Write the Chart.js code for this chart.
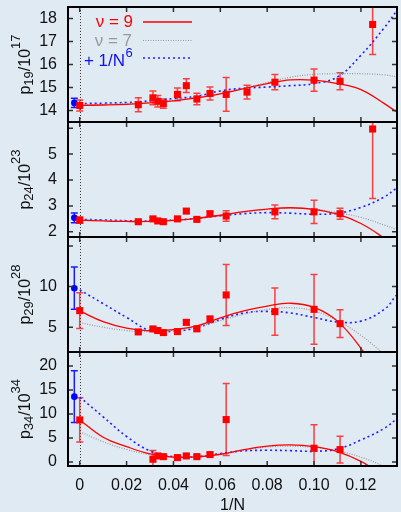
<!DOCTYPE html>
<html>
<head>
<meta charset="utf-8">
<script src="https://cdn.jsdelivr.net/npm/chart.js@4.4.1/dist/chart.umd.min.js"></script>
<style>
  html, body { margin: 0; padding: 0; background: #e0eaf3; overflow: hidden; }
  body { width: 401px; height: 512px; position: relative; }
  .panel { position: absolute; left: 0; }
</style>
</head>
<body>
<canvas id="c1" class="panel" style="top:0" width="402" height="130"></canvas>
<canvas id="c2" class="panel" style="top:115px" width="402" height="130"></canvas>
<canvas id="c3" class="panel" style="top:230px" width="402" height="130"></canvas>
<canvas id="c4" class="panel" style="top:340px" width="402" height="172"></canvas>
<script>
// lattice points, x = 1/N
const xPts = [0, 0.025, 0.03125, 0.0333, 0.0357, 0.0417, 0.0455, 0.05, 0.0556, 0.0625, 0.0714, 0.0833, 0.1, 0.1111, 0.125];
const p19 = [14.22, 14.25, 14.55, 14.4, 14.3, 14.7, 15.08, 14.5, 14.74, 14.7, 14.8, 15.23, 15.32, 15.27, 17.74];
const p19Err = [0.24, 0.3, 0.3, 0.25, 0.2, 0.28, 0.3, 0.25, 0.28, 0.73, 0.3, 0.33, 0.48, 0.37, 1.3];
const p24 = [2.45, 2.39, 2.5, 2.42, 2.39, 2.5, 2.8, 2.48, 2.7, 2.61, null, 2.77, 2.77, 2.7, 5.97];
const p24Err = [0.12, 0.05, 0.06, 0.05, 0.05, 0.06, 0.06, 0.06, 0.08, 0.2, null, 0.27, 0.45, 0.21, 2.68];
const p29 = [7.04, 4.42, 4.79, 4.59, 4.34, 4.46, 5.6, 4.8, 5.98, 8.97, null, 6.92, 7.2, 5.44, null];
const p29Err = [2.2, 0.2, 0.2, 0.2, 0.2, 0.2, 0.3, 0.3, 0.4, 3.75, null, 2.9, 4.3, 1.7, null];
const p34 = [8.75, null, 0.56, 1.25, 1.1, 0.9, 1.25, 1.1, 1.53, 8.82, null, null, 2.85, 2.57, null];
const p34Err = [4.6, null, 1.8, 0.3, 0.3, 0.3, 0.3, 0.3, 0.4, 7.5, null, null, 4.9, 2.8, null];

// extrapolation with 1/N^6 term (blue, shifted left a bit)
const blueX = -0.0023;
const blueVals = [14.33, 2.54, 9.8, 13.6];
const blueErrs = [0.2, 0.19, 2.6, 5.4];

// fit curves
const curveX = [0, 0.01, 0.02, 0.03, 0.04, 0.05, 0.06, 0.07, 0.08, 0.09, 0.10, 0.11, 0.12, 0.13, 0.135];
const nu9_p19 = [14.22, 14.24, 14.27, 14.33, 14.42, 14.55, 14.72, 14.95, 15.17, 15.33, 15.32, 15.17, 14.91, 14.3, 13.95];
const nu7_p19 = [14.25, 14.27, 14.3, 14.36, 14.45, 14.58, 14.75, 14.97, 15.22, 15.45, 15.57, 15.6, 15.6, 15.55, 15.47];
const n6_p19 = [14.3, 14.32, 14.35, 14.42, 14.52, 14.62, 14.85, 14.97, 15.02, 15.08, 15.17, 15.46, 16.4, 17.6, 18.3];
const nu9_p24 = [2.45, 2.42, 2.4, 2.4, 2.44, 2.52, 2.64, 2.78, 2.88, 2.93, 2.87, 2.68, 2.32, 1.75, 1.4];
const nu7_p24 = [2.47, 2.44, 2.41, 2.41, 2.45, 2.52, 2.63, 2.76, 2.86, 2.91, 2.88, 2.74, 2.56, 2.26, 2.1];
const n6_p24 = [2.48, 2.46, 2.43, 2.42, 2.45, 2.52, 2.62, 2.7, 2.74, 2.72, 2.68, 2.72, 2.94, 3.35, 3.68];
const nu9_p29 = [7.0, 5.69, 4.88, 4.55, 4.7, 5.16, 6.15, 7.0, 7.6, 7.95, 7.45, 5.75, 2.4, -2, -5];
const nu7_p29 = [5.57, 5.0, 4.59, 4.45, 4.6, 5.05, 5.8, 6.6, 7.2, 7.4, 7.0, 5.8, 4.0, 1.6, 0];
const n6_p29 = [9.6, 7.9, 6.2, 4.6, 4.5, 4.95, 5.95, 6.75, 6.95, 6.75, 6.2, 5.65, 5.75, 7.2, 8.9];
const nu9_p34 = [8.75, 5.14, 3.2, 1.67, 1.0, 1.05, 1.6, 2.55, 3.3, 3.55, 3.2, 2.15, 0.1, -3, -5];
const nu7_p34 = [6.3, 4.2, 2.6, 1.5, 1.0, 1.05, 1.55, 2.4, 3.1, 3.3, 3.0, 2.3, 1.0, -1.0, -2.5];
const n6_p34 = [13.5, 9.4, 5.3, 2.3, 1.1, 1.1, 1.75, 2.3, 2.42, 2.35, 2.22, 2.7, 4.58, 7.0, 8.9];

// ticks
const xTicks = [0, 0.02, 0.04, 0.06, 0.08, 0.10, 0.12];
const xTickLabels = ['0', '0.02', '0.04', '0.06', '0.08', '0.10', '0.12'];
const yTicks19 = [14, 15, 16, 17, 18];
const yLabels19 = ['14', '15', '16', '17', '18'];
const yTicks24 = [2, 3, 4, 5, 6];
const yLabels24 = ['2', '3', '4', '5', ''];
const yTicks29 = [5, 10, 15];
const yLabels29 = ['5', '10', ''];
const yTicks34 = [0, 5, 10, 15, 20];
const yLabels34 = ['0', '5', '10', '15', '20'];

const FONT = '"Liberation Sans", Arial, sans-serif';
Chart.defaults.font.family = FONT;

// box round the plot with inward ticks on all four sides
const frame = {
    id: 'frame',
    afterDraw(chart) {
        const {ctx, chartArea: a, scales: {x, y}} = chart;
        ctx.save();
        ctx.strokeStyle = '#333';
        ctx.lineWidth = 1.5;
        ctx.beginPath();
        xTicks.forEach(v => {
            const px = x.getPixelForValue(v);
            ctx.moveTo(px, a.top); ctx.lineTo(px, a.top + 5);
            ctx.moveTo(px, a.bottom); ctx.lineTo(px, a.bottom - 5);
        });
        y.ticks.forEach(t => {
            const py = y.getPixelForValue(t.value);
            ctx.moveTo(a.left, py); ctx.lineTo(a.left + 5, py);
            ctx.moveTo(a.right, py); ctx.lineTo(a.right - 5, py);
        });
        ctx.stroke();
        ctx.strokeStyle = '#000';
        ctx.lineWidth = 2;
        ctx.strokeRect(a.left, a.top, a.right - a.left, a.bottom - a.top);
        ctx.restore();
    }
};

// dotted line at 1/N = 0 and the error bars
const errorBars = {
    id: 'errorBars',
    beforeDatasetsDraw(chart) {
        const {ctx, chartArea: a, scales: {x, y}} = chart;
        ctx.save();
        ctx.beginPath();
        ctx.rect(a.left, a.top, a.right - a.left, a.bottom - a.top);
        ctx.clip();

        const x0 = Math.round(x.getPixelForValue(0)) + 0.5;
        ctx.strokeStyle = '#333';
        ctx.lineWidth = 1;
        ctx.setLineDash([1, 2]);
        ctx.beginPath();
        ctx.moveTo(x0, a.top); ctx.lineTo(x0, a.bottom);
        ctx.stroke();
        ctx.setLineDash([]);

        chart.data.datasets.forEach(ds => {
            if (!ds.errors) return;
            ctx.strokeStyle = ds.errColor;
            ctx.lineWidth = 1.5;
            ds.data.forEach((pt, i) => {
                const e = ds.errors[i];
                const px = x.getPixelForValue(pt.x);
                const y1 = y.getPixelForValue(pt.y + e);
                const y2 = y.getPixelForValue(pt.y - e);
                ctx.beginPath();
                ctx.moveTo(px, y1); ctx.lineTo(px, y2);
                ctx.moveTo(px - 3.5, y1); ctx.lineTo(px + 3.5, y1);
                ctx.moveTo(px - 3.5, y2); ctx.lineTo(px + 3.5, y2);
                ctx.stroke();
            });
        });
        ctx.restore();
    }
};

// rotated y title like p_19/10^17
const yTitle = {
    id: 'yTitle',
    afterDraw(chart, args, opts) {
        const {ctx, chartArea: a} = chart;
        const parts = [
            {t: 'p', size: 16, dy: 0},
            {t: opts.sub, size: 13, dy: 3},
            {t: '/10', size: 16, dy: 0},
            {t: opts.sup, size: 13, dy: -10}
        ];
        ctx.save();
        ctx.translate(29.5, (a.top + a.bottom) / 2);
        ctx.rotate(-Math.PI / 2);
        ctx.fillStyle = '#111';
        ctx.textAlign = 'left';
        ctx.textBaseline = 'alphabetic';
        let w = 0;
        parts.forEach(p => {
            ctx.font = p.size + 'px ' + FONT;
            p.w = ctx.measureText(p.t).width;
            w += p.w;
        });
        let cx = -w / 2;
        parts.forEach(p => {
            ctx.font = p.size + 'px ' + FONT;
            ctx.fillText(p.t, cx, p.dy);
            cx += p.w;
        });
        ctx.restore();
    }
};

// gnuplot style key in the first panel
const keyBox = {
    id: 'keyBox',
    afterDraw(chart, args, opts) {
        if (!opts.show) return;
        const ctx = chart.ctx;
        ctx.save();
        ctx.textAlign = 'right';
        ctx.textBaseline = 'middle';
        ctx.font = '17px ' + FONT;

        ctx.fillStyle = '#ff0000';
        ctx.fillText('ν = 9', 133, 22);
        ctx.strokeStyle = '#ff0000';
        ctx.lineWidth = 1.3;
        ctx.beginPath(); ctx.moveTo(143, 22); ctx.lineTo(192, 22); ctx.stroke();

        ctx.fillStyle = '#999';
        ctx.fillText('ν = 7', 132, 41);
        ctx.strokeStyle = '#9a9a9a';
        ctx.lineWidth = 1.2;
        ctx.setLineDash([1, 1.5]);
        ctx.beginPath(); ctx.moveTo(143, 40.5); ctx.lineTo(192, 40.5); ctx.stroke();

        ctx.fillStyle = '#1010f0';
        ctx.fillText('+ 1/N', 125, 61);
        ctx.font = '13px ' + FONT;
        ctx.textAlign = 'left';
        ctx.fillText('6', 125.5, 53);
        ctx.strokeStyle = '#1f1fff';
        ctx.lineWidth = 1.6;
        ctx.setLineDash([2, 3]);
        ctx.beginPath(); ctx.moveTo(143, 58); ctx.lineTo(192, 58); ctx.stroke();
        ctx.restore();
    }
};

const panels = [
    {id: 'c1', k: 0, pts: p19, err: p19Err, nu9: nu9_p19, nu7: nu7_p19, n6: n6_p19, yMin: 13.5, yMax: 18.5, yTicks: yTicks19, yLabels: yLabels19, sub: '19', sup: '17', padTop: 7, padBottom: 8},
    {id: 'c2', k: 1, pts: p24, err: p24Err, nu9: nu9_p24, nu7: nu7_p24, n6: n6_p24, yMin: 1.8, yMax: 6.24, yTicks: yTicks24, yLabels: yLabels24, sub: '24', sup: '23', padTop: 7, padBottom: 8},
    {id: 'c3', k: 2, pts: p29, err: p29Err, nu9: nu9_p29, nu7: nu7_p29, n6: n6_p29, yMin: 1.95, yMax: 16.1, yTicks: yTicks29, yLabels: yLabels29, sub: '29', sup: '28', padTop: 7, padBottom: 8},
    {id: 'c4', k: 3, pts: p34, err: p34Err, nu9: nu9_p34, nu7: nu7_p34, n6: n6_p34, yMin: -0.85, yMax: 22.9, yTicks: yTicks34, yLabels: yLabels34, sub: '34', sup: '34', padTop: 12, padBottom: 0}
];

function makeChart(p) {
    const last = p.k === 3;
    const pointData = [];
    const pointErr = [];
    xPts.forEach((x, i) => {
        if (p.pts[i] !== null) {
            pointData.push({x: x, y: p.pts[i]});
            pointErr.push(p.err[i]);
        }
    });
    const curve = arr => curveX.map((x, i) => ({x: x, y: arr[i]}));

    return new Chart(document.getElementById(p.id), {
        type: 'scatter',
        data: {
            datasets: [
                {data: pointData, errors: pointErr, errColor: 'rgba(255,20,20,0.8)', pointStyle: 'rect', pointRadius: 5, backgroundColor: '#ff0000', borderWidth: 0, order: 0},
                {data: [{x: blueX, y: blueVals[p.k]}], errors: [blueErrs[p.k]], errColor: '#1a1aff', pointStyle: 'circle', pointRadius: 3.3, backgroundColor: '#0000ff', borderWidth: 0, order: 1},
                {data: curve(p.nu9), showLine: true, borderColor: '#ff0000', borderWidth: 1.3, pointRadius: 0, tension: 0.4, order: 2},
                {data: curve(p.nu7), showLine: true, borderColor: '#9a9a9a', borderWidth: 1.2, borderDash: [1, 1.5], pointRadius: 0, tension: 0.4, order: 3},
                {data: curve(p.n6), showLine: true, borderColor: '#1f1fff', borderWidth: 1.6, borderDash: [2, 3], pointRadius: 0, tension: 0.4, order: 4}
            ]
        },
        options: {
            responsive: false,
            animation: false,
            events: [],
            layout: {padding: {top: p.padTop, bottom: p.padBottom, left: 0, right: 0}},
            plugins: {
                legend: {display: false},
                tooltip: {enabled: false},
                yTitle: {sub: p.sub, sup: p.sup},
                keyBox: {show: p.k === 0}
            },
            scales: {
                x: {
                    type: 'linear',
                    min: -0.005,
                    max: 0.1354,
                    display: last,
                    grid: {display: false, drawTicks: false},
                    border: {display: false},
                    afterBuildTicks: s => { s.ticks = xTicks.map(v => ({value: v})); },
                    ticks: {
                        padding: 10, color: '#111', maxRotation: 0, autoSkip: false,
                        font: {size: 16},
                        callback: (v, i) => xTickLabels[i]
                    },
                    title: {display: last, text: '1/N', color: '#111', font: {size: 16}, padding: {top: 0, bottom: -3}},
                    afterFit: s => { s.height = last ? 46 : 0; s.paddingLeft = 0; s.paddingRight = 0; }
                },
                y: {
                    min: p.yMin,
                    max: p.yMax,
                    grid: {display: false, drawTicks: false},
                    border: {display: false},
                    afterBuildTicks: s => { s.ticks = p.yTicks.map(v => ({value: v})); },
                    ticks: {
                        padding: 11, color: '#111', autoSkip: false,
                        font: {size: 16},
                        callback: (v, i) => p.yLabels[i]
                    },
                    afterFit: s => { s.width = 68; s.paddingTop = 0; s.paddingBottom = 0; }
                }
            }
        },
        plugins: [errorBars, frame, yTitle, keyBox]
    });
}

panels.forEach(makeChart);
</script>
</body>
</html>
